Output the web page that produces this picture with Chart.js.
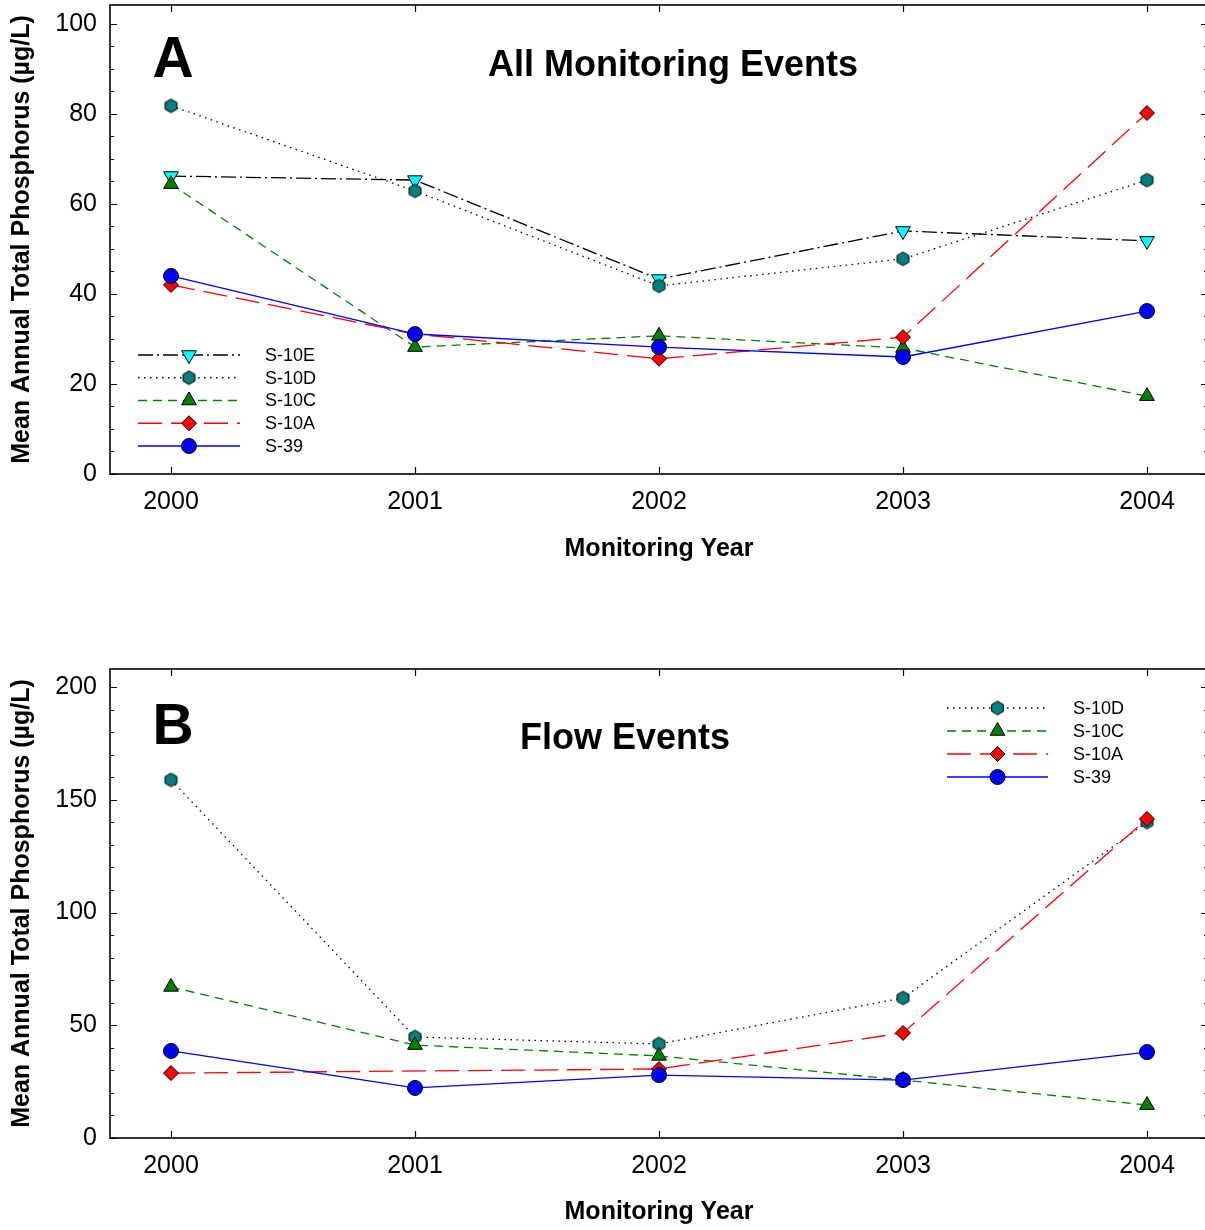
<!DOCTYPE html>
<html><head><meta charset="utf-8">
<script src="https://cdn.jsdelivr.net/npm/chart.js@4.4.0/dist/chart.umd.min.js"></script>
<style>
html,body{margin:0;padding:0;background:#fff;overflow:hidden;width:1205px;height:1230px;}
.wrap{position:absolute;left:0;width:1210px;}
canvas{display:block;}
</style></head><body>
<div class="wrap" style="top:0;height:600px"><canvas id="cA" width="1210" height="600"></canvas></div>
<div class="wrap" style="top:600px;height:630px"><canvas id="cB" width="1210" height="630"></canvas></div>
<script>
// ---------- DATA ----------
const years = [2000, 2001, 2002, 2003, 2004];

// Panel A: All Monitoring Events
const seriesA = ['S-10E', 'S-10D', 'S-10C', 'S-10A', 'S-39'];
const a_S10E = [66.2, 65.3, 43.3, 54.0, 51.8];
const a_S10D = [81.8, 62.9, 41.8, 47.8, 65.3];
const a_S10C = [64.4, 28.2, 30.7, 28.0, 17.3];
const a_S10A = [42.0, 31.1, 25.6, 30.4, 80.2];
const a_S39  = [44.0, 31.1, 28.2, 26.0, 36.2];
const yTicksA = [0, 20, 40, 60, 80, 100];

// Panel B: Flow Events
const seriesB = ['S-10D', 'S-10C', 'S-10A', 'S-39'];
const b_S10D = [158.8, 44.8, 41.7, 62.1, 140.1];
const b_S10C = [67.0, 41.2, 36.4, 25.7, 14.6];
const b_S10A = [28.8, null, 30.6, 46.6, 141.5];
const b_S39  = [38.6, 22.2, 27.9, 25.7, 38.1];
const yTicksB = [0, 50, 100, 150, 200];

const titleA = 'All Monitoring Events';
const titleB = 'Flow Events';
const yTitle = 'Mean Annual Total Phosphorus (\u00b5g/L)';
const xTitle = 'Monitoring Year';

// ---------- STYLES ----------
const FONT = "'Liberation Sans', Arial, sans-serif";
function hexImg(r, fill) {
  const c = document.createElement('canvas');
  const s = Math.ceil(2 * r + 3);
  c.width = s; c.height = s;
  const g = c.getContext('2d');
  g.beginPath();
  for (let i = 0; i < 6; i++) {
    const ang = Math.PI / 3 * i - Math.PI / 2;
    const px = s / 2 + r * Math.cos(ang), py = s / 2 + r * Math.sin(ang);
    if (i) g.lineTo(px, py); else g.moveTo(px, py);
  }
  g.closePath();
  g.fillStyle = fill; g.fill();
  g.strokeStyle = '#000'; g.lineWidth = 1; g.stroke();
  return c;
}
const HEX = hexImg(6.8, '#008080');
const styles = {
  'S-10E': {line: '#000000', dash: [15, 4, 2, 4], width: 1.3, pt: 'triangle', rot: 180, fill: '#00ffff', r: 8.5, order: 4},
  'S-10D': {line: '#000000', dash: [1.5, 4.5], width: 1.3, pt: HEX, rot: 0, fill: '#008080', r: 6.8, order: 3},
  'S-10C': {line: '#008000', dash: [9, 6], width: 1.3, pt: 'triangle', rot: 0, fill: '#008000', r: 8.5, order: 2},
  'S-10A': {line: '#ff0000', dash: [24, 9], width: 1.3, pt: 'rectRot', rot: 0, fill: '#ff0000', r: 7.5, order: 1},
  'S-39':  {line: '#0000ff', dash: [], width: 1.3, pt: 'circle', rot: 0, fill: '#0000ff', r: 7.5, order: 0}
};

function makeDataset(name, values) {
  const s = styles[name];
  return {
    label: name,
    data: years.map((yr, i) => ({x: yr, y: values[i]})),
    borderColor: s.line, borderWidth: s.width, borderDash: s.dash,
    pointStyle: s.pt, pointRotation: s.rot, pointRadius: s.r,
    pointBackgroundColor: s.fill, pointBorderColor: '#000', pointBorderWidth: 1,
    fill: false, tension: 0, spanGaps: true, order: s.order
  };
}

// ---------- PLUGINS ----------
const framePlugin = {
  id: 'frame',
  beforeDatasetsDraw(chart, args, o) {
    const {ctx, chartArea: a, scales: {x, y}} = chart;
    ctx.save();
    ctx.strokeStyle = '#000';
    ctx.lineWidth = 1.6;
    ctx.strokeRect(a.left, a.top, a.right - a.left, a.bottom - a.top);
    ctx.lineWidth = 1.2;
    ctx.beginPath();
    years.forEach(v => {
      const px = Math.round(x.getPixelForValue(v)) + 0.5;
      ctx.moveTo(px, a.bottom); ctx.lineTo(px, a.bottom - 7);
      ctx.moveTo(px, a.top); ctx.lineTo(px, a.top + 7);
    });
    const top = o.ticks[o.ticks.length - 1];
    for (let v = 0; v <= top; v += o.minor) {
      const py = Math.round(y.getPixelForValue(v)) + 0.5;
      const len = (v % o.major === 0) ? 7 : 4;
      ctx.moveTo(a.left, py); ctx.lineTo(a.left + len, py);
      ctx.moveTo(a.right, py); ctx.lineTo(a.right - len, py);
    }
    ctx.stroke();
    ctx.restore();
  },
  afterDatasetsDraw(chart, args, o) {
    const {ctx} = chart;
    ctx.save();
    ctx.fillStyle = '#000';
    ctx.textAlign = 'center';
    ctx.textBaseline = 'alphabetic';
    ctx.font = 'bold 57px ' + FONT;
    ctx.fillText(o.letter, o.letterX, o.letterY);
    ctx.font = 'bold 36px ' + FONT;
    ctx.fillText(o.title, o.titleX, o.titleY);
    // legend
    o.legend.forEach((name, i) => {
      const s = styles[name];
      const yy = o.legY + i * o.legStep;
      ctx.save();
      ctx.strokeStyle = s.line; ctx.lineWidth = s.width;
      ctx.setLineDash(s.dash);
      ctx.beginPath(); ctx.moveTo(o.legX0, yy); ctx.lineTo(o.legX1, yy); ctx.stroke();
      ctx.setLineDash([]);
      ctx.fillStyle = s.fill; ctx.strokeStyle = '#000'; ctx.lineWidth = 1;
      Chart.helpers.drawPoint(ctx, {pointStyle: s.pt, rotation: s.rot, radius: s.r, borderWidth: 1}, (o.legX0 + o.legX1) / 2, yy);
      ctx.restore();
      ctx.fillStyle = '#000';
      ctx.font = '18px ' + FONT;
      ctx.textAlign = 'left';
      ctx.textBaseline = 'middle';
      ctx.fillText(name, o.legTextX, yy + 1);
    });
    ctx.restore();
  }
};

function zeroPad(s) { s.paddingTop = 0; s.paddingBottom = 0; s.paddingLeft = 0; s.paddingRight = 0; }

function makeChart(id, names, arrays, yMax, yTicks, frameOpts, padTop, xHeight, xTitlePad) {
  return new Chart(document.getElementById(id), {
    type: 'line',
    data: {datasets: names.map((n, i) => makeDataset(n, arrays[i]))},
    options: {
      responsive: false, animation: false, events: [],
      layout: {autoPadding: false, padding: {top: padTop, right: 2, left: 0, bottom: 0}},
      plugins: {legend: {display: false}, tooltip: {enabled: false}, frame: frameOpts},
      scales: {
        x: {
          type: 'linear', min: 1999.75, max: 2004.25,
          afterBuildTicks: s => { s.ticks = years.map(v => ({value: v})); },
          afterFit: s => { s.height = xHeight; zeroPad(s); },
          grid: {display: false, drawTicks: false},
          border: {display: false},
          ticks: {callback: v => String(v), color: '#000', font: {family: FONT, size: 25}, padding: 13, maxRotation: 0},
          title: {display: true, text: xTitle, color: '#000', font: {family: FONT, size: 25, weight: 'bold'}, padding: {top: 0, bottom: xTitlePad}}
        },
        y: {
          type: 'linear', min: 0, max: yMax,
          afterBuildTicks: s => { s.ticks = yTicks.map(v => ({value: v})); },
          afterFit: s => { s.width = 110; zeroPad(s); },
          grid: {display: false, drawTicks: false},
          border: {display: false},
          ticks: {color: '#000', font: {family: FONT, size: 25}, padding: 13},
          title: {display: true, text: yTitle, color: '#000', font: {family: FONT, size: 25, weight: 'bold'}, padding: {top: 7, bottom: 0}}
        }
      }
    },
    plugins: [framePlugin]
  });
}

makeChart('cA', seriesA, [a_S10E, a_S10D, a_S10C, a_S10A, a_S39], 104.2, yTicksA,
  {ticks: yTicksA, major: 20, minor: 5, letter: 'A', letterX: 173, letterY: 77, title: titleA, titleX: 673, titleY: 76,
   legend: seriesA, legX0: 138, legX1: 240, legTextX: 265, legY: 355, legStep: 22.75},
  5, 126, 36);

makeChart('cB', seriesB, [b_S10D, b_S10C, b_S10A, b_S39], 208, yTicksB,
  {ticks: yTicksB, major: 50, minor: 10, letter: 'B', letterX: 173, letterY: 144, title: titleB, titleX: 625, titleY: 149,
   legend: seriesB, legX0: 947, legX1: 1048, legTextX: 1073, legY: 108, legStep: 23},
  69, 92, 3);
</script>
</body></html>
